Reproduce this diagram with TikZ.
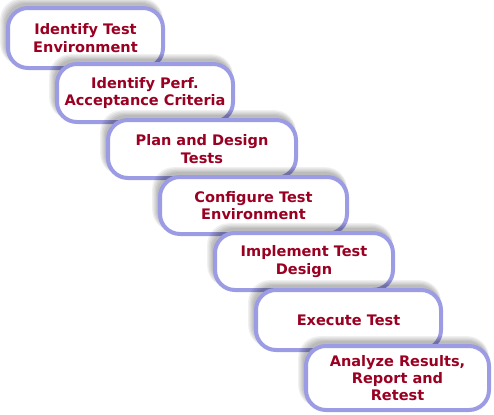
\documentclass[tikz,border=0pt]{standalone}
\usepackage{fontspec}
\setmainfont{DejaVu Sans}
\definecolor{boxline}{HTML}{9C9CE4}
\definecolor{boxtext}{HTML}{990022}
\tikzset{
  stepbox/.style={draw=boxline, line width=3pt, fill=white, rounded corners=15pt},
  shadowlayer/.style={fill=black, opacity=0.06, rounded corners=16pt},
  steptext/.style={text=boxtext, font=\fontsize{10.9}{13}\selectfont\bfseries, align=center}
}
\newcommand{\stepnode}[6]{%
  \foreach \k in {0,1.2,2.4,3.6,4.8}{
    \path[shadowlayer] ({#2-3-\k},{#3-5-\k}) rectangle ({#4-1+\k*0.2},{#5-3});
  }
  \path[stepbox] (#2,#3) rectangle (#4,#5);
  \node[steptext] (#1) at ({(#2+#4)/2},{(#3+#5)/2}) {#6};}
\begin{document}
\begin{tikzpicture}[x=0.75pt,y=-0.75pt]
\useasboundingbox (0,0) rectangle (494,415);
\stepnode{s1}{8}{8}{163}{68}{Identify Test\\Environment}
\stepnode{s2}{57}{64}{233}{122}{Identify Perf.\\Acceptance Criteria}
\stepnode{s3}{108}{120}{296}{178}{Plan and Design\\Tests}
\stepnode{s4}{160}{177}{347}{234}{Configure Test\\Environment}
\stepnode{s5}{215}{233}{393}{290}{Implement Test\\Design}
\stepnode{s6}{256}{290}{441}{350}{Execute Test}
\stepnode{s7}{306}{346}{489}{410}{Analyze Results,\\Report and\\Retest}
\end{tikzpicture}
\end{document}
